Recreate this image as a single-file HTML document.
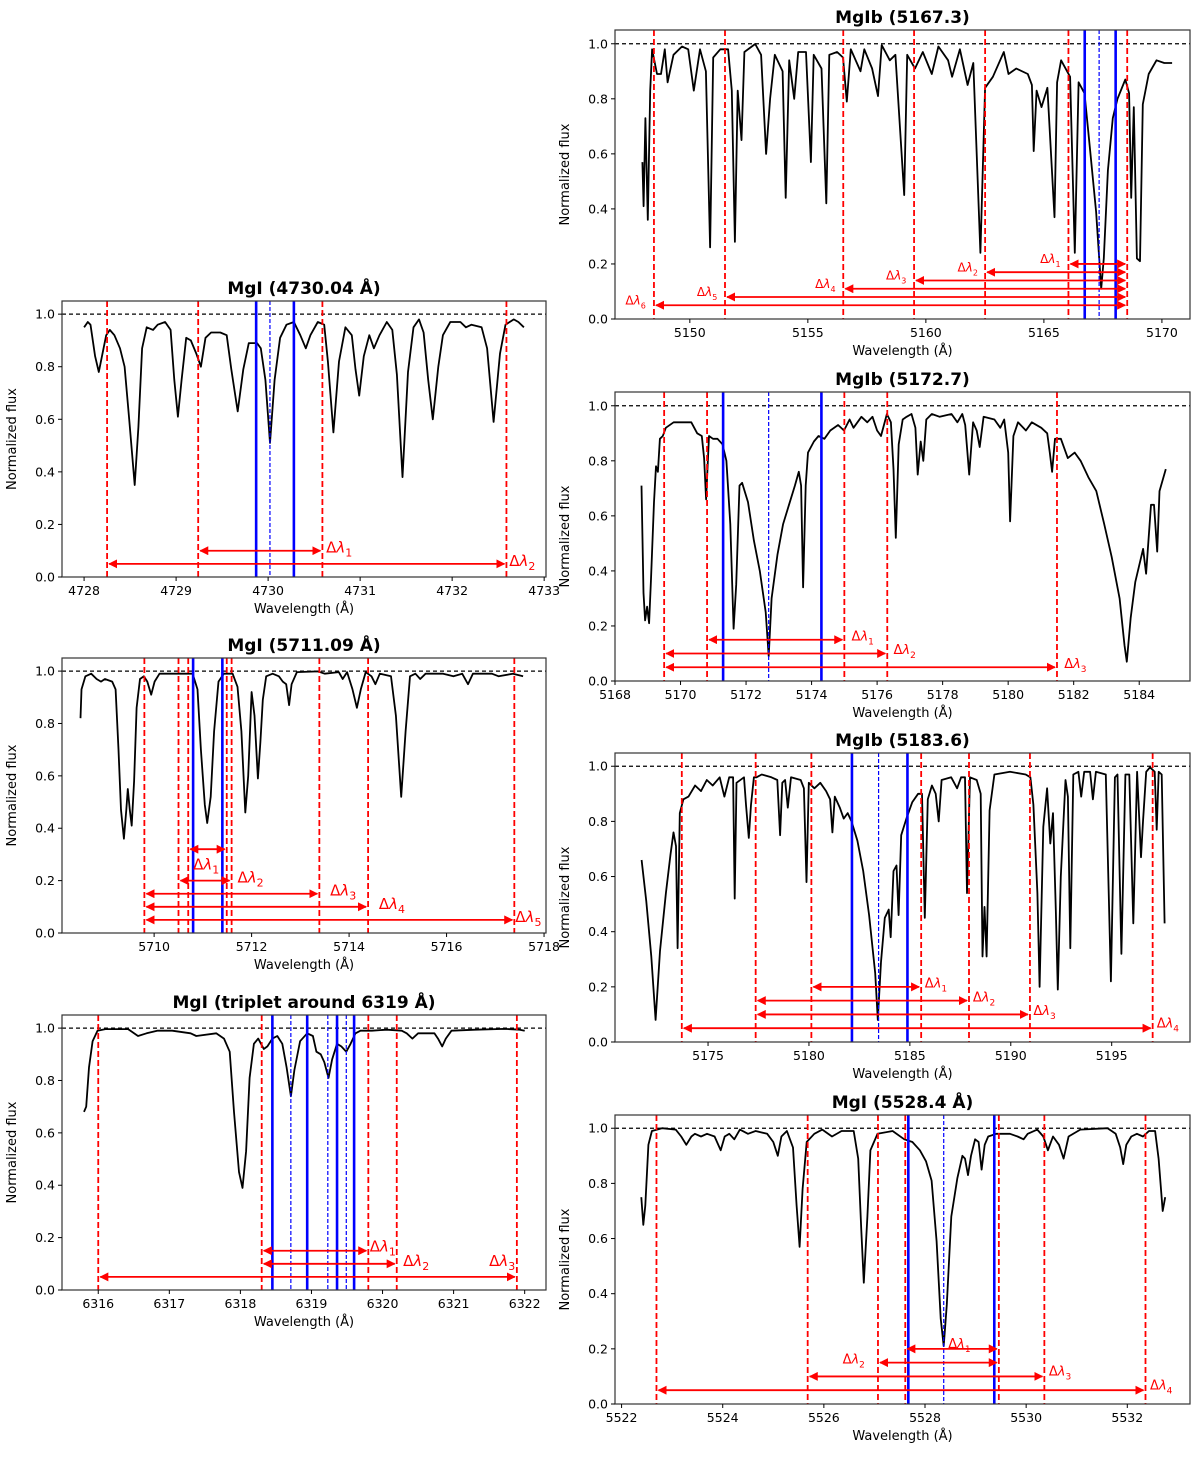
<!DOCTYPE html>
<html><head><meta charset="utf-8"><style>
body{margin:0;background:#fff}
svg text{font-family:"DejaVu Sans","Liberation Sans",sans-serif}
</style></head><body>
<svg id="fig" width="1200" height="1453" viewBox="0 0 1200 1453" xmlns="http://www.w3.org/2000/svg">
<defs>
<marker id="ah" viewBox="0 0 10 10" refX="9" refY="5" markerWidth="5" markerHeight="5" orient="auto-start-reverse"><path d="M0,0 L10,5 L0,10 z" fill="red"/></marker>
</defs>
</svg>
<script>
// ---------- Panel 1: MgI 4730.04 ----------
const p1Wl=[4728.00,4728.04,4728.07,4728.12,4728.16,4728.20,4728.24,4728.28,4728.33,4728.39,4728.44,4728.49,4728.55,4728.59,4728.63,4728.68,4728.75,4728.80,4728.88,4728.94,4728.98,4729.02,4729.06,4729.11,4729.16,4729.22,4729.27,4729.32,4729.38,4729.48,4729.55,4729.60,4729.67,4729.73,4729.79,4729.88,4729.92,4729.97,4730.02,4730.07,4730.13,4730.20,4730.28,4730.35,4730.41,4730.46,4730.54,4730.61,4730.65,4730.71,4730.77,4730.84,4730.91,4730.95,4730.99,4731.04,4731.10,4731.15,4731.21,4731.29,4731.35,4731.40,4731.46,4731.52,4731.58,4731.64,4731.69,4731.74,4731.79,4731.85,4731.90,4731.98,4732.09,4732.15,4732.21,4732.32,4732.38,4732.45,4732.52,4732.58,4732.67,4732.72,4732.78];
const p1Flux=[0.95,0.97,0.96,0.84,0.78,0.85,0.92,0.94,0.92,0.87,0.80,0.60,0.35,0.57,0.87,0.95,0.94,0.96,0.97,0.94,0.75,0.61,0.75,0.91,0.90,0.85,0.80,0.91,0.93,0.93,0.92,0.79,0.63,0.79,0.89,0.89,0.87,0.75,0.51,0.75,0.91,0.96,0.97,0.92,0.87,0.92,0.97,0.96,0.82,0.55,0.82,0.95,0.92,0.79,0.69,0.84,0.92,0.87,0.92,0.97,0.94,0.77,0.38,0.78,0.95,0.98,0.93,0.75,0.60,0.80,0.92,0.97,0.97,0.95,0.96,0.95,0.87,0.59,0.85,0.96,0.98,0.97,0.95];
const p1Red=[4728.25,4729.24,4730.59,4732.59];
const p1BlueSolid=[4729.87,4730.28];
const p1BlueDash=[4730.02];
const p1ArrowFrom=[4729.24,4728.25];
const p1ArrowTo=[4730.59,4732.59];
const p1ArrowY=[0.10,0.05];
const p1LabelX=[4730.63,4732.62];
const p1LabelY=[0.10,0.05];
const p1Ticks=[4728,4729,4730,4731,4732,4733];

// ---------- Panel 2: MgI 5711.09 ----------
const p2Wl=[5708.49,5708.51,5708.59,5708.71,5708.82,5708.91,5708.99,5709.14,5709.21,5709.27,5709.32,5709.38,5709.43,5709.46,5709.50,5709.54,5709.59,5709.64,5709.71,5709.79,5709.86,5709.94,5710.01,5710.11,5710.50,5710.79,5710.89,5710.96,5711.04,5711.09,5711.16,5711.23,5711.32,5711.43,5711.61,5711.71,5711.79,5711.87,5711.93,5712.00,5712.06,5712.13,5712.18,5712.23,5712.30,5712.43,5712.56,5712.64,5712.71,5712.77,5712.82,5712.93,5713.36,5713.50,5713.79,5713.87,5713.96,5714.07,5714.16,5714.24,5714.34,5714.46,5714.54,5714.63,5714.86,5714.96,5715.07,5715.16,5715.25,5715.36,5715.46,5715.57,5715.79,5715.93,5716.14,5716.32,5716.44,5716.54,5716.93,5717.07,5717.36,5717.57];
const p2Flux=[0.82,0.93,0.98,0.99,0.97,0.96,0.97,0.96,0.93,0.70,0.47,0.36,0.47,0.55,0.47,0.41,0.58,0.86,0.97,0.98,0.96,0.91,0.96,0.99,0.99,0.99,0.93,0.70,0.49,0.42,0.52,0.77,0.96,0.99,0.99,0.94,0.77,0.46,0.60,0.92,0.83,0.59,0.73,0.89,0.98,0.99,0.98,0.96,0.95,0.87,0.95,0.996,0.999,0.99,0.996,0.97,0.996,0.93,0.86,0.93,0.996,0.98,0.95,0.99,0.98,0.83,0.52,0.77,0.98,0.99,0.97,0.99,0.99,0.99,0.98,0.99,0.95,0.99,0.99,0.98,0.99,0.98];
const p2Red=[5709.80,5710.50,5710.70,5711.49,5711.59,5713.39,5714.39,5717.39];
const p2BlueSolid=[5710.80,5711.40];
const p2BlueDash=[];
const p2ArrowFrom=[5710.70,5710.50,5709.80,5709.80,5709.80];
const p2ArrowTo=[5711.49,5711.59,5713.39,5714.39,5717.39];
const p2ArrowY=[0.32,0.20,0.15,0.10,0.05];
const p2LabelX=[5710.80,5711.71,5713.61,5714.61,5717.41];
const p2LabelY=[0.25,0.20,0.15,0.10,0.05];
const p2Ticks=[5710,5712,5714,5716,5718];

// ---------- Panel 3: MgI triplet 6319 ----------
const p3Wl=[6315.80,6315.83,6315.87,6315.92,6315.99,6316.10,6316.42,6316.56,6316.68,6316.83,6317.04,6317.30,6317.38,6317.66,6317.77,6317.85,6317.91,6317.98,6318.03,6318.08,6318.13,6318.19,6318.25,6318.29,6318.33,6318.38,6318.45,6318.52,6318.59,6318.65,6318.71,6318.76,6318.84,6318.94,6319.02,6319.07,6319.13,6319.18,6319.24,6319.29,6319.36,6319.42,6319.49,6319.55,6319.62,6319.69,6319.85,6320.06,6320.27,6320.34,6320.42,6320.50,6320.73,6320.78,6320.84,6320.89,6320.97,6321.31,6321.72,6321.93,6322.00];
const p3Flux=[0.68,0.70,0.85,0.95,0.99,0.996,0.996,0.97,0.98,0.99,0.99,0.98,0.97,0.98,0.96,0.91,0.68,0.45,0.39,0.53,0.81,0.94,0.96,0.94,0.92,0.93,0.96,0.97,0.94,0.85,0.74,0.84,0.95,0.98,0.97,0.91,0.90,0.87,0.81,0.88,0.94,0.93,0.91,0.94,0.98,0.99,0.99,0.994,0.99,0.98,0.96,0.98,0.98,0.96,0.93,0.96,0.99,0.994,0.997,0.994,0.99];
const p3Red=[6316.00,6318.30,6319.80,6320.20,6321.89];
const p3BlueSolid=[6318.45,6318.94,6319.36,6319.60];
const p3BlueDash=[6318.71,6319.23,6319.49];
const p3ArrowFrom=[6318.30,6318.30,6316.00];
const p3ArrowTo=[6319.80,6320.20,6321.89];
const p3ArrowY=[0.15,0.10,0.05];
const p3LabelX=[6319.82,6320.29,6321.50];
const p3LabelY=[0.155,0.10,0.10];
const p3Ticks=[6316,6317,6318,6319,6320,6321,6322];

// ---------- Right 1: MgIb 5167.3 ----------
const r1Wl=[5147.99,5148.04,5148.12,5148.22,5148.32,5148.40,5148.61,5148.78,5148.94,5149.06,5149.31,5149.67,5149.93,5150.17,5150.43,5150.68,5150.86,5150.99,5151.29,5151.62,5151.78,5151.91,5152.03,5152.19,5152.31,5152.77,5153.02,5153.23,5153.40,5153.60,5153.93,5154.06,5154.21,5154.42,5154.59,5154.92,5155.13,5155.25,5155.58,5155.78,5155.91,5156.24,5156.49,5156.65,5156.82,5157.23,5157.39,5157.72,5157.97,5158.13,5158.47,5158.71,5159.08,5159.21,5159.54,5159.87,5160.25,5160.53,5160.94,5161.11,5161.44,5161.77,5162.01,5162.31,5162.51,5162.84,5163.30,5163.50,5163.83,5164.32,5164.49,5164.57,5164.69,5164.90,5165.15,5165.45,5165.56,5165.73,5166.11,5166.31,5166.47,5166.72,5166.96,5167.21,5167.43,5167.54,5167.71,5167.92,5168.12,5168.45,5168.61,5168.70,5168.81,5168.94,5169.07,5169.19,5169.44,5169.77,5170.10,5170.43];
const r1Flux=[0.57,0.41,0.73,0.36,0.83,0.98,0.89,0.89,0.98,0.86,0.96,0.99,0.98,0.83,0.98,0.90,0.26,0.95,0.98,0.98,0.83,0.28,0.83,0.65,0.97,0.999,0.96,0.60,0.80,0.96,0.90,0.44,0.94,0.80,0.97,0.97,0.57,0.96,0.91,0.42,0.96,0.97,0.95,0.79,0.98,0.90,0.98,0.91,0.81,0.995,0.94,0.96,0.45,0.96,0.91,0.97,0.89,0.99,0.94,0.88,0.98,0.85,0.93,0.24,0.84,0.88,0.97,0.89,0.91,0.89,0.85,0.61,0.83,0.77,0.84,0.37,0.86,0.94,0.88,0.24,0.86,0.82,0.61,0.39,0.11,0.22,0.54,0.73,0.80,0.87,0.82,0.44,0.77,0.22,0.21,0.78,0.89,0.94,0.93,0.93];
const r1Red=[5148.48,5151.49,5156.50,5159.50,5162.51,5166.04,5168.53];
const r1BlueSolid=[5166.73,5168.04];
const r1BlueDash=[5167.34];
const r1ArrowFrom=[5166.04,5162.51,5159.50,5156.50,5151.49,5148.48];
const r1ArrowTo=[5168.53,5168.53,5168.53,5168.53,5168.53,5168.53];
const r1ArrowY=[0.20,0.17,0.14,0.11,0.08,0.05];
const r1LabelX=[5164.84,5161.34,5158.31,5155.31,5150.30,5147.27];
const r1LabelY=[0.21,0.18,0.15,0.12,0.09,0.06];
const r1Ticks=[5150,5155,5160,5165,5170];

// ---------- Right 2: MgIb 5172.7 ----------
const r2Wl=[5168.81,5168.87,5168.92,5168.98,5169.04,5169.10,5169.19,5169.25,5169.31,5169.37,5169.46,5169.55,5169.79,5170.09,5170.33,5170.51,5170.65,5170.72,5170.78,5170.87,5170.99,5171.13,5171.28,5171.40,5171.52,5171.62,5171.70,5171.80,5171.88,5172.06,5172.24,5172.42,5172.60,5172.69,5172.78,5172.96,5173.13,5173.31,5173.49,5173.61,5173.68,5173.74,5173.82,5173.89,5174.07,5174.21,5174.39,5174.57,5174.81,5174.99,5175.16,5175.28,5175.52,5175.70,5175.86,5176.00,5176.12,5176.30,5176.42,5176.50,5176.57,5176.66,5176.78,5176.90,5177.05,5177.17,5177.24,5177.33,5177.41,5177.50,5177.67,5177.91,5178.27,5178.45,5178.60,5178.69,5178.81,5178.93,5179.04,5179.13,5179.25,5179.58,5179.76,5179.88,5180.00,5180.06,5180.16,5180.30,5180.54,5180.72,5181.01,5181.19,5181.27,5181.34,5181.43,5181.61,5181.82,5182.03,5182.21,5182.45,5182.69,5182.93,5183.16,5183.40,5183.55,5183.62,5183.74,5183.88,5184.12,5184.21,5184.36,5184.45,5184.55,5184.62,5184.81];
const r2Flux=[0.71,0.32,0.22,0.27,0.21,0.37,0.65,0.78,0.76,0.88,0.89,0.92,0.94,0.94,0.94,0.90,0.89,0.81,0.66,0.89,0.88,0.88,0.86,0.80,0.57,0.19,0.35,0.71,0.72,0.65,0.51,0.40,0.25,0.09,0.30,0.46,0.57,0.64,0.71,0.76,0.71,0.34,0.71,0.83,0.87,0.89,0.88,0.91,0.93,0.91,0.95,0.92,0.96,0.94,0.96,0.91,0.89,0.97,0.94,0.77,0.52,0.86,0.95,0.96,0.97,0.92,0.75,0.87,0.80,0.95,0.97,0.96,0.97,0.94,0.97,0.93,0.75,0.94,0.91,0.85,0.96,0.95,0.92,0.95,0.83,0.58,0.89,0.94,0.91,0.94,0.92,0.90,0.83,0.76,0.88,0.88,0.81,0.83,0.80,0.74,0.69,0.57,0.45,0.30,0.13,0.07,0.23,0.36,0.48,0.39,0.64,0.64,0.47,0.69,0.77];
const r2Red=[5169.50,5170.81,5175.00,5176.31,5181.49];
const r2BlueSolid=[5171.30,5174.30];
const r2BlueDash=[5172.69];
const r2ArrowFrom=[5170.81,5169.50,5169.50];
const r2ArrowTo=[5175.00,5176.31,5181.49];
const r2ArrowY=[0.15,0.10,0.05];
const r2LabelX=[5175.22,5176.50,5181.71];
const r2LabelY=[0.155,0.105,0.055];
const r2Ticks=[5168,5170,5172,5174,5176,5178,5180,5182,5184];

// ---------- Right 3: MgIb 5183.6 ----------
const r3Wl=[5171.71,5171.94,5172.19,5172.40,5172.62,5172.91,5173.14,5173.29,5173.41,5173.49,5173.60,5173.78,5174.03,5174.36,5174.65,5174.94,5175.23,5175.58,5175.81,5176.05,5176.24,5176.32,5176.41,5176.78,5176.88,5177.02,5177.13,5177.27,5177.40,5177.66,5178.14,5178.43,5178.57,5178.68,5178.82,5178.95,5179.11,5179.59,5179.75,5179.88,5179.99,5180.27,5180.56,5180.85,5181.05,5181.16,5181.28,5181.53,5181.72,5181.92,5182.11,5182.40,5182.69,5182.98,5183.28,5183.41,5183.57,5183.76,5183.95,5184.05,5184.19,5184.34,5184.44,5184.57,5184.83,5185.12,5185.41,5185.60,5185.74,5185.89,5186.09,5186.28,5186.43,5186.57,5187.05,5187.34,5187.54,5187.73,5187.83,5187.98,5188.31,5188.51,5188.60,5188.70,5188.80,5188.95,5189.19,5189.96,5190.74,5190.97,5191.12,5191.32,5191.43,5191.61,5191.80,5191.96,5192.09,5192.23,5192.33,5192.48,5192.71,5192.83,5192.95,5193.10,5193.35,5193.49,5193.64,5193.93,5194.07,5194.22,5194.71,5194.96,5195.16,5195.29,5195.48,5195.68,5195.87,5196.07,5196.26,5196.45,5196.55,5196.71,5196.90,5197.13,5197.23,5197.33,5197.48,5197.62];
const r3Flux=[0.66,0.51,0.31,0.08,0.33,0.54,0.68,0.76,0.71,0.34,0.83,0.88,0.89,0.93,0.91,0.95,0.93,0.96,0.89,0.96,0.96,0.52,0.94,0.96,0.86,0.74,0.86,0.96,0.96,0.97,0.96,0.95,0.75,0.94,0.95,0.85,0.96,0.95,0.92,0.58,0.94,0.92,0.94,0.91,0.88,0.76,0.89,0.85,0.81,0.83,0.80,0.73,0.62,0.46,0.25,0.08,0.29,0.45,0.48,0.38,0.62,0.64,0.46,0.75,0.81,0.87,0.90,0.90,0.45,0.88,0.93,0.90,0.80,0.95,0.96,0.92,0.96,0.96,0.54,0.96,0.95,0.90,0.31,0.49,0.31,0.84,0.97,0.98,0.97,0.96,0.86,0.54,0.20,0.78,0.92,0.72,0.83,0.48,0.19,0.60,0.95,0.89,0.34,0.97,0.98,0.89,0.98,0.98,0.88,0.98,0.97,0.22,0.96,0.97,0.32,0.97,0.97,0.43,0.98,0.67,0.80,0.98,0.996,0.98,0.77,0.98,0.97,0.43];
const r3Red=[5173.70,5177.36,5180.12,5185.56,5187.93,5190.95,5197.03];
const r3BlueSolid=[5182.13,5184.88];
const r3BlueDash=[5183.45];
const r3ArrowFrom=[5180.12,5177.36,5177.36,5173.70];
const r3ArrowTo=[5185.56,5187.93,5190.95,5197.03];
const r3ArrowY=[0.20,0.15,0.10,0.05];
const r3LabelX=[5185.74,5188.12,5191.12,5197.23];
const r3LabelY=[0.205,0.155,0.105,0.06];
const r3Ticks=[5175,5180,5185,5190,5195];

// ---------- Right 4: MgI 5528.4 ----------
const r4Wl=[5522.39,5522.43,5522.47,5522.53,5522.60,5522.80,5523.07,5523.18,5523.28,5523.38,5523.45,5523.57,5523.69,5523.84,5523.96,5524.04,5524.13,5524.23,5524.34,5524.50,5524.65,5524.88,5525.00,5525.09,5525.16,5525.27,5525.39,5525.46,5525.52,5525.58,5525.66,5525.81,5525.97,5526.16,5526.35,5526.59,5526.68,5526.74,5526.79,5526.86,5526.92,5527.06,5527.36,5527.59,5527.75,5527.90,5528.02,5528.13,5528.23,5528.31,5528.37,5528.43,5528.52,5528.64,5528.74,5528.79,5528.85,5528.91,5528.99,5529.06,5529.12,5529.18,5529.25,5529.41,5529.68,5529.83,5529.95,5530.03,5530.22,5530.34,5530.43,5530.53,5530.65,5530.74,5530.84,5531.07,5531.61,5531.77,5531.86,5531.92,5531.98,5532.08,5532.19,5532.31,5532.43,5532.55,5532.62,5532.70,5532.75];
const r4Flux=[0.75,0.65,0.72,0.94,0.99,1.0,0.995,0.97,0.94,0.97,0.98,0.97,0.98,0.97,0.92,0.97,0.98,0.96,0.995,0.98,0.99,0.98,0.95,0.90,0.97,0.99,0.93,0.72,0.57,0.78,0.95,0.98,0.995,0.97,0.99,0.99,0.89,0.63,0.44,0.68,0.92,0.98,0.99,0.96,0.95,0.92,0.88,0.81,0.59,0.31,0.21,0.36,0.68,0.82,0.90,0.89,0.83,0.90,0.96,0.95,0.85,0.94,0.97,0.98,0.98,0.97,0.96,0.98,0.995,0.97,0.92,0.97,0.94,0.89,0.97,0.995,1.0,0.98,0.93,0.87,0.94,0.97,0.98,0.97,0.99,0.99,0.89,0.70,0.75];
const r4Red=[5522.69,5525.68,5527.07,5527.61,5529.46,5530.36,5532.36];
const r4BlueSolid=[5527.67,5529.37];
const r4BlueDash=[5528.37];
const r4ArrowFrom=[5527.61,5527.07,5525.68,5522.69];
const r4ArrowTo=[5529.46,5529.46,5530.36,5532.36];
const r4ArrowY=[0.20,0.15,0.10,0.05];
const r4LabelX=[5528.46,5526.37,5530.45,5532.45];
const r4LabelY=[0.21,0.155,0.11,0.06];
const r4Ticks=[5522,5524,5526,5528,5530,5532];

const yTicks=[0,0.2,0.4,0.6,0.8,1.0];

const NS="http://www.w3.org/2000/svg";
const svg=document.getElementById('fig');
function mk(tag,attrs,parent){const e=document.createElementNS(NS,tag);for(const k in attrs)e.setAttribute(k,attrs[k]);(parent||svg).appendChild(e);return e;}

const panels=[
 {id:'mgi-4730',title:'MgI (4730.04 Å)',L:62,R:546,T:301,B:577,xmin:4727.76,xmax:4733.02,ymax:1.05,wl:p1Wl,fl:p1Flux,red:p1Red,bs:p1BlueSolid,bd:p1BlueDash,af:p1ArrowFrom,at:p1ArrowTo,ay:p1ArrowY,lx:p1LabelX,ly:p1LabelY,ticks:p1Ticks,fs:15},
 {id:'mgi-5711',title:'MgI (5711.09 Å)',L:62,R:546,T:658,B:933,xmin:5708.11,xmax:5718.04,ymax:1.05,wl:p2Wl,fl:p2Flux,red:p2Red,bs:p2BlueSolid,bd:p2BlueDash,af:p2ArrowFrom,at:p2ArrowTo,ay:p2ArrowY,lx:p2LabelX,ly:p2LabelY,ticks:p2Ticks,fs:15},
 {id:'mgi-6319',title:'MgI (triplet around 6319 Å)',L:62,R:546,T:1015,B:1290,xmin:6315.49,xmax:6322.30,ymax:1.05,wl:p3Wl,fl:p3Flux,red:p3Red,bs:p3BlueSolid,bd:p3BlueDash,af:p3ArrowFrom,at:p3ArrowTo,ay:p3ArrowY,lx:p3LabelX,ly:p3LabelY,ticks:p3Ticks,fs:15},
 {id:'mgib-5167',title:'MgIb (5167.3)',L:615,R:1190,T:30,B:319,xmin:5146.83,xmax:5171.19,ymax:1.05,wl:r1Wl,fl:r1Flux,red:r1Red,bs:r1BlueSolid,bd:r1BlueDash,af:r1ArrowFrom,at:r1ArrowTo,ay:r1ArrowY,lx:r1LabelX,ly:r1LabelY,ticks:r1Ticks,fs:12},
 {id:'mgib-5172',title:'MgIb (5172.7)',L:615,R:1190,T:392,B:681,xmin:5168.0,xmax:5185.55,ymax:1.05,wl:r2Wl,fl:r2Flux,red:r2Red,bs:r2BlueSolid,bd:r2BlueDash,af:r2ArrowFrom,at:r2ArrowTo,ay:r2ArrowY,lx:r2LabelX,ly:r2LabelY,ticks:r2Ticks,fs:13},
 {id:'mgib-5183',title:'MgIb (5183.6)',L:615,R:1190,T:753,B:1042,xmin:5170.39,xmax:5198.88,ymax:1.048,wl:r3Wl,fl:r3Flux,red:r3Red,bs:r3BlueSolid,bd:r3BlueDash,af:r3ArrowFrom,at:r3ArrowTo,ay:r3ArrowY,lx:r3LabelX,ly:r3LabelY,ticks:r3Ticks,fs:13},
 {id:'mgi-5528',title:'MgI (5528.4 Å)',L:615,R:1190,T:1115,B:1404,xmin:5521.87,xmax:5533.24,ymax:1.048,wl:r4Wl,fl:r4Flux,red:r4Red,bs:r4BlueSolid,bd:r4BlueDash,af:r4ArrowFrom,at:r4ArrowTo,ay:r4ArrowY,lx:r4LabelX,ly:r4LabelY,ticks:r4Ticks,fs:13}
];

panels.forEach((p,pi)=>{
 const g=mk('g',{});
 
 
 const x=v=>p.L+(v-p.xmin)/(p.xmax-p.xmin)*(p.R-p.L);
 const y=v=>p.B-v/p.ymax*(p.B-p.T);
 const cid='clip'+pi;
 const cp=mk('clipPath',{id:cid},g);
 mk('rect',{x:p.L,y:p.T,width:p.R-p.L,height:p.B-p.T},cp);
 const inner=mk('g',{'clip-path':'url(#'+cid+')'},g);
 
 
 // continuum line
 const cont=mk('line',{x1:p.L,x2:p.R,y1:y(1),y2:y(1),stroke:'#000','stroke-width':1.2,'stroke-dasharray':'4,3'},inner);
 
 
 // spectrum
 let d='';
 p.wl.forEach((w,i)=>{d+=(i?'L':'M')+x(w).toFixed(1)+','+y(p.fl[i]).toFixed(1);});
 const sp=mk('path',{d:d,fill:'none',stroke:'#000','stroke-width':1.8,'stroke-linejoin':'round'},inner);
 
 
 // red windows
 p.red.forEach(w=>{
  const l=mk('line',{x1:x(w),x2:x(w),y1:p.T,y2:p.B,stroke:'red','stroke-width':1.8,'stroke-dasharray':'6,3'},inner);
  
  
 });
 p.bs.forEach(w=>{
  const l=mk('line',{x1:x(w),x2:x(w),y1:p.T,y2:p.B,stroke:'blue','stroke-width':2.6},inner);
  
  
 });
 p.bd.forEach(w=>{
  const l=mk('line',{x1:x(w),x2:x(w),y1:p.T,y2:p.B,stroke:'blue','stroke-width':1.2,'stroke-dasharray':'4,2'},inner);
  
  
 });
 // arrows
 p.af.forEach((a,i)=>{
  const l=mk('line',{x1:x(a)+2,x2:x(p.at[i])-2,y1:y(p.ay[i]),y2:y(p.ay[i]),stroke:'red','stroke-width':1.8,'marker-start':'url(#ah)','marker-end':'url(#ah)'},inner);
  
  
 });
 p.lx.forEach((lx,i)=>{
  const t=mk('text',{x:x(lx),y:y(p.ly[i])+2,fill:'red','font-size':p.fs},g);
  
  
  t.appendChild(document.createTextNode('Δ'));
  const s1=mk('tspan',{'font-style':'italic'},t);s1.textContent='λ';
  const s2=mk('tspan',{'font-size':Math.round(p.fs*0.7),dy:4},t);s2.textContent=String(i+1);
 });
 // frame
 const fr=mk('rect',{x:p.L,y:p.T,width:p.R-p.L,height:p.B-p.T,fill:'none',stroke:'#333','stroke-width':1.2},g);
 
 
 // x ticks
 p.ticks.forEach(tv=>{
  const tx=x(tv);
  mk('line',{x1:tx,x2:tx,y1:p.B,y2:p.B+4,stroke:'#000','stroke-width':1},g);
  const t=mk('text',{x:tx,y:p.B+18,'text-anchor':'middle','font-size':12.5,fill:'#000'},g);
  
  
  t.textContent=String(tv);
 });
 yTicks.forEach(tv=>{
  const ty=y(tv);
  mk('line',{x1:p.L-4,x2:p.L,y1:ty,y2:ty,stroke:'#000','stroke-width':1},g);
  const t=mk('text',{x:p.L-7,y:ty+4.5,'text-anchor':'end','font-size':12.5,fill:'#000'},g);
  
  
  t.textContent=tv.toFixed(1);
 });
 const xl=mk('text',{x:(p.L+p.R)/2,y:p.B+36,'text-anchor':'middle','font-size':13,fill:'#000'},g);
 
 
 xl.textContent='Wavelength (Å)';
 const yx=p.L-46, yc=(p.T+p.B)/2;
 const yl=mk('text',{x:yx,y:yc,'text-anchor':'middle','font-size':13,fill:'#000',transform:'rotate(-90 '+yx+' '+yc+')'},g);
 
 
 yl.textContent='Normalized flux';
 const ti=mk('text',{x:(p.L+p.R)/2,y:p.T-7,'text-anchor':'middle','font-size':17,'font-weight':'bold',fill:'#000'},g);
 
 
 ti.textContent=p.title;
});
</script>
</body></html>
